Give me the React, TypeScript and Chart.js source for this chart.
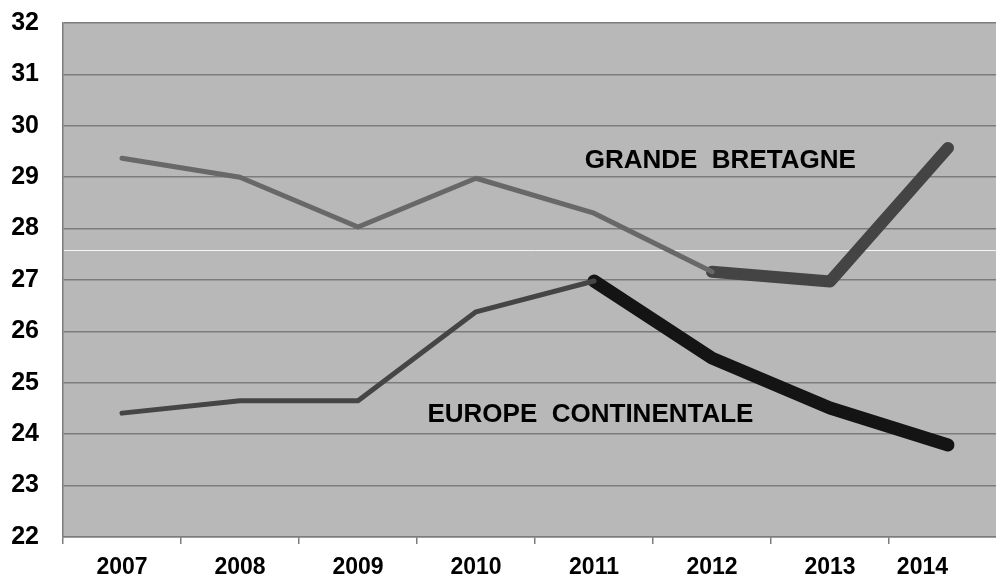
import { useEffect, useRef } from 'react';
import { Chart, registerables } from 'chart.js';

Chart.register(...registerables);

// Categories and series
const YEARS = ['2007', '2008', '2009', '2010', '2011', '2012', '2013', '2014'];
const GRANDE_BRETAGNE = [29.37, 29.0, 28.03, 28.98, 28.3, 27.16, 26.97, 29.57];
const EUROPE_CONTINENTALE = [24.41, 24.65, 24.65, 26.38, 26.98, 25.48, 24.51, 23.79];

// Value axis
const Y_MIN = 22;
const Y_MAX = 32;
const Y_STEP = 1;

// Index from which each series is drawn with a heavy stroke
const GB_EMPHASIS_FROM = 5; // 2012
const EU_EMPHASIS_FROM = 4; // 2011

// Series captions
const GB_CAPTION = 'GRANDE  BRETAGNE';
const EU_CAPTION = 'EUROPE  CONTINENTALE';

const FONT = '"Liberation Sans", Arial, Helvetica, sans-serif';
const PLOT_BG = '#b8b8b8';
const GRID = '#7c7c7c';

const split = (values: number[], from: number, heavy: boolean) =>
  values.map((v, i) => (heavy ? (i >= from ? v : null) : i <= from ? v : null));

const plotPlugin = {
  id: 'plotDecor',
  beforeDraw(chart: any) {
    const { ctx, chartArea } = chart;
    ctx.save();
    ctx.fillStyle = PLOT_BG;
    ctx.fillRect(chartArea.left, chartArea.top, chartArea.right - chartArea.left, chartArea.bottom - chartArea.top);
    ctx.restore();
  },
  beforeDatasetsDraw(chart: any) {
    const { ctx, chartArea, scales } = chart;
    // faint light streak across the plot
    const y = Math.round(scales.y.getPixelForValue(27.58)) + 0.5;
    ctx.save();
    ctx.strokeStyle = 'rgba(255,255,255,0.85)';
    ctx.lineWidth = 1;
    ctx.beginPath();
    ctx.moveTo(chartArea.left + 1, y);
    ctx.lineTo(chartArea.right, y);
    ctx.stroke();
    ctx.restore();
  },
  afterDatasetsDraw(chart: any) {
    const { ctx, scales } = chart;
    ctx.save();
    ctx.fillStyle = '#000';
    ctx.font = `bold 26px ${FONT}`;
    ctx.textAlign = 'center';
    ctx.textBaseline = 'alphabetic';
    ctx.fillText(GB_CAPTION, scales.x.getPixelForValue(5.07), scales.y.getPixelForValue(29.18));
    ctx.fillText(EU_CAPTION, scales.x.getPixelForValue(3.97), scales.y.getPixelForValue(24.24));
    ctx.restore();
  },
};

export default function App() {
  const ref = useRef<HTMLCanvasElement | null>(null);

  useEffect(() => {
    if (!ref.current) return;
    const lineBase = {
      fill: false,
      pointRadius: 0,
      pointHoverRadius: 0,
      tension: 0,
      borderCapStyle: 'round' as const,
      borderJoinStyle: 'round' as const,
      spanGaps: false,
    };
    const chart = new Chart(ref.current, {
      type: 'line',
      data: {
        labels: YEARS,
        datasets: [
          { ...lineBase, label: 'Grande Bretagne', data: split(GRANDE_BRETAGNE, GB_EMPHASIS_FROM, false), borderColor: '#686868', borderWidth: 5 },
          { ...lineBase, label: 'Europe continentale', data: split(EUROPE_CONTINENTALE, EU_EMPHASIS_FROM, false), borderColor: '#454545', borderWidth: 5 },
          { ...lineBase, label: 'Grande Bretagne (fin)', data: split(GRANDE_BRETAGNE, GB_EMPHASIS_FROM, true), borderColor: '#444444', borderWidth: 12 },
          { ...lineBase, label: 'Europe continentale (fin)', data: split(EUROPE_CONTINENTALE, EU_EMPHASIS_FROM, true), borderColor: '#141414', borderWidth: 13 },
        ],
      },
      options: {
        animation: false,
        responsive: false,
        devicePixelRatio: 1,
        layout: { padding: { top: 23, right: 4, left: 0, bottom: 0 } },
        plugins: {
          legend: { display: false },
          tooltip: { enabled: false },
        },
        scales: {
          x: {
            type: 'category',
            offset: true,
            grid: {
              offset: true,
              drawOnChartArea: false,
              drawTicks: true,
              tickLength: 7,
              color: GRID,
              lineWidth: 1.5,
            },
            border: { display: true, color: GRID, width: 1.5 },
            ticks: {
              color: '#000',
              font: { family: FONT, size: 23, weight: 'bold' },
              padding: 10,
              maxRotation: 0,
              autoSkip: false,
              callback: (_v: any, i: number) =>
                i === YEARS.length - 1 ? YEARS[i] + '\u2007'.repeat(4) : YEARS[i],
            },
            afterFit: (scale: any) => {
              scale.height = 41;
            },
          },
          y: {
            min: Y_MIN,
            max: Y_MAX,
            grid: { color: GRID, lineWidth: 1.5, drawTicks: false },
            border: { display: true, color: GRID, width: 1.5 },
            ticks: {
              stepSize: Y_STEP,
              color: '#000',
              font: { family: FONT, size: 25, weight: 'bold' },
              padding: 24,
            },
            afterFit: (scale: any) => {
              scale.width = 63;
              scale.paddingTop = 0;
              scale.paddingBottom = 0;
            },
          },
        },
      },
      plugins: [plotPlugin],
    });
    return () => chart.destroy();
  }, []);

  return (
    <div style={{ position: 'fixed', left: 0, top: 0, width: 996, height: 578, overflow: 'hidden', background: '#fff' }}>
      <div style={{ width: 1011, height: 578 }}>
        <canvas ref={ref} width={1011} height={578} style={{ display: 'block', width: 1011, height: 578 }} />
      </div>
    </div>
  );
}
